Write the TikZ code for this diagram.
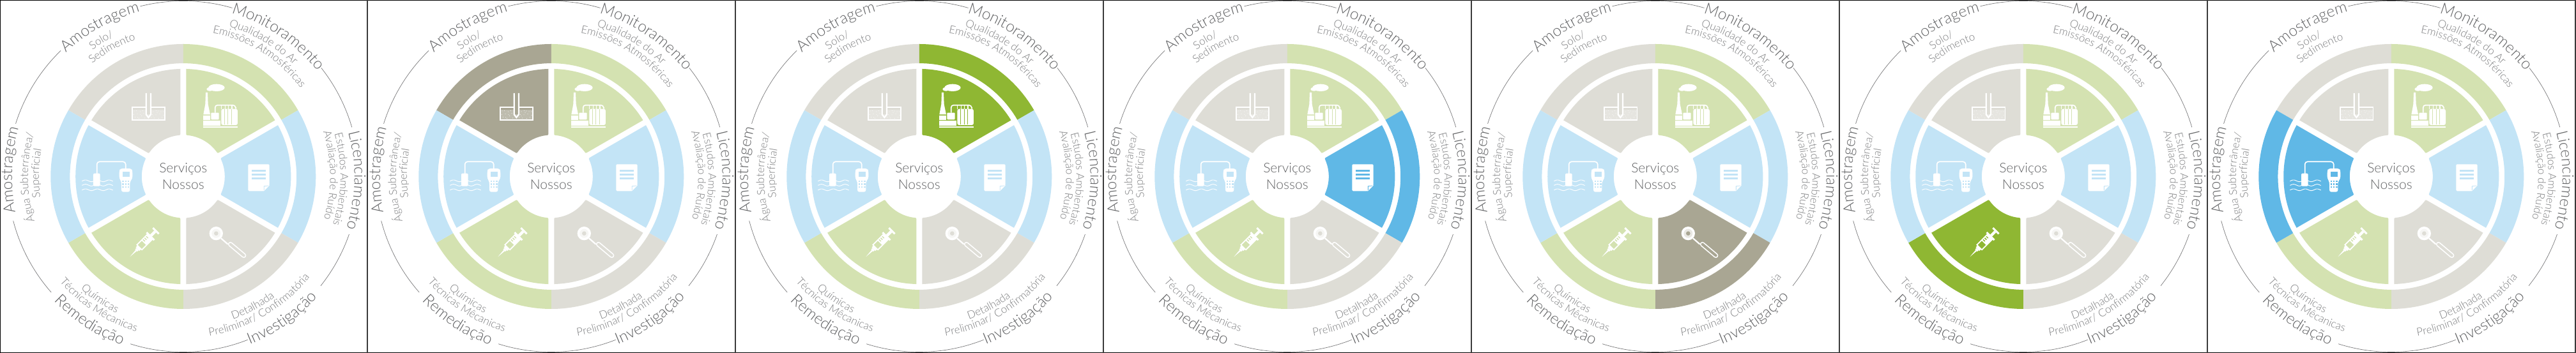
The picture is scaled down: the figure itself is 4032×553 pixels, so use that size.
\documentclass[tikz,border=0pt]{standalone}
\usepackage{fontspec}
\usetikzlibrary{decorations.text}
\setmainfont{Lato}
\newfontfamily\lightfont{Lato Light}

\definecolor{GrayL}{HTML}{DEDDD6}
\definecolor{GreenL}{HTML}{D4E2B1}
\definecolor{BlueL}{HTML}{C3E4F6}
\definecolor{GrayD}{HTML}{A9A693}
\definecolor{GreenD}{HTML}{8FB733}
\definecolor{BlueD}{HTML}{60B8E6}
\definecolor{TitleGray}{HTML}{626365}
\definecolor{SubGray}{HTML}{7C7D7F}
\definecolor{FrameGray}{HTML}{3A3A3A}

\newcommand{\titlefont}{\lightfont\fontsize{24.5}{25}\selectfont\color{TitleGray}}
\newcommand{\subfont}{\lightfont\fontsize{17}{18}\selectfont\color{SubGray}}

\pgfmathsetmacro{\aOut}{asin(4.5/168.6)}
\pgfmathsetmacro{\aNear}{asin(4.5/68.5)}
\pgfmathsetmacro{\aIn}{asin(4.5/65)}
\pgfmathsetmacro{\aTip}{\aIn+3.5/65*57.3}

\newcommand{\ringtext}[5]{%
    \path[decorate,decoration={text along path,text align=center,text={|#1|#5}}]
        ({#3-(#4)*50}:#2) arc[start angle={#3-(#4)*50},end angle={#3+(#4)*50},radius=#2];}

\newcommand{\iconA}{%
    \begin{scope}[shift={(-96.8,156.5)},x=.3333pt,y=-.3333pt]
        \fill[white,opacity=.25] (52,155) rectangle (203,202);
        \foreach \dotx/\doty in {60/162,75/175,64/190,88/165,95/185,82/196,105/172,150/165,162/180,155/195,172/162,180/176,190/192,197/165,175/197,140/190,110/195,70/160,58/178,90/178,100/160,146/178,168/170,186/165,198/182,76/192,150/186,163/160}
            \fill[white] (\dotx,\doty) circle[radius=1.5];
        \draw[white,line width=1.7pt] (50,143) rectangle (205,204);
        \fill[sectfill] (116,120) rectangle (138,178);
        \draw[white,line width=2.3pt] (116,78) -- (116,178) -- (127,192) -- (138,178) -- (138,78);
    \end{scope}}

\newcommand{\iconB}{%
    \begin{scope}[shift={(-96.8,156.5)},x=.3333pt,y=-.3333pt]
        \fill[white] (447,52) ellipse[x radius=38,y radius=17];
        \fill[white] (416,59) ellipse[x radius=16,y radius=9];
        \fill[white] (396,75) -- (405,75) -- (407,130) -- (417,178) -- (385,178) -- (394,130) -- cycle;
        \fill[white] (384,182) rectangle (417,203);
        \fill[white] (384,206) rectangle (465,232);
        \fill[white] (384,235) rectangle (546,241);
        \fill[white,rounded corners=1pt] (421,170) rectangle (458,202);
        \draw[white,line width=1.7pt,rounded corners=4pt] (440,170) -- (440,134) -- (535,134) -- (538,152);
        \foreach \pipex in {470,487,503,519}
            \draw[white,line width=1.5pt] (\pipex,134) -- (\pipex,152);
        \fill[white,rounded corners=3pt] (469,152) rectangle (546,228);
        \foreach \tankx in {485,501,517}
            \draw[sectfill,line width=1pt] (\tankx,154) -- (\tankx,226);
    \end{scope}}

\newcommand{\iconC}{%
    \begin{scope}[shift={(93.2,6.5)},x=.3333pt,y=-.3333pt]
        \fill[white,rounded corners=1.5pt] (25,-38) -- (125,-38) -- (125,60) -- (97,88) -- (25,88) -- cycle;
        \fill[white] (125,58) -- (125,62) -- (99,88) -- (95,88) -- cycle;
        \draw[sectfill,line width=.8pt] (100,84) -- (100,65) -- (121,63);
        \foreach \bandy in {-13,5,24}
            \fill[sectfill] (43,\bandy) rectangle (108,\bandy+10);
    \end{scope}}

\newcommand{\iconD}{%
    \begin{scope}[shift={(-96.8,-63.5)},x=.3333pt,y=-.3333pt]
        \fill[white] (445,77) circle[radius=32];
        \fill[sectfill,opacity=.25] (445,77) circle[radius=21];
        \fill[sectfill] (445,77) circle[radius=10];
        \draw[white,line width=2.2pt] (468,100) -- (500,128);
        \draw[white,line width=7.5pt,line cap=round] (512,128) -- (575,181);
        \draw[sectfill,line width=4.2pt,line cap=round] (512,128) -- (575,181);
    \end{scope}}

\newcommand{\iconE}{%
    \begin{scope}[shift={(-83.5,-125.8)},rotate=45]
        \fill[white] (0,0) -- (15,1.3) -- (15,-1.3) -- cycle;
        \fill[white] (14,-2.5) rectangle (17,2.5);
        \fill[white] (17,-4) rectangle (21,4);
        \draw[white,line width=1.7pt] (21,-5.5) rectangle (44,5.5);
        \fill[white] (31,-5.5) rectangle (44,5.5);
        \foreach \ticks in {33,36.5,40}
            \fill[sectfill] (\ticks,.5) rectangle (\ticks+1.5,4.5);
        \fill[white] (44,-8.5) rectangle (47,8.5);
        \fill[white] (47,-2.2) rectangle (56,2.2);
        \fill[white] (56,-6.5) rectangle (59,6.5);
    \end{scope}}

\newcommand{\iconF}{%
    \begin{scope}[shift={(-166.8,36.5)},x=.3333pt,y=-.3333pt]
        \foreach \wavey in {130,150,172}
            \draw[white,line width=.9pt] plot[domain=25:170,samples=50] (\x,{\wavey+4*sin(\x*6.5)});
        \draw[white,line width=1.7pt,rounded corners=4pt] (95,100) -- (95,40) -- (230,40) -- (230,74);
        \fill[white,rounded corners=2pt] (78,95) rectangle (110,155);
        \fill[white,rounded corners=3pt] (205,72) -- (257,72) -- (262,84) -- (262,118) -- (250,135) -- (250,182) -- (210,182) -- (210,135) -- (200,118) -- (200,84) -- cycle;
        \fill[sectfill] (215,87) rectangle (248,110);
        \foreach \keyx in {218,231,244}
            \foreach \keyy in {132,146,160}
                \fill[sectfill] (\keyx-3.5,\keyy-3.5) rectangle (\keyx+3.5,\keyy+3.5);
    \end{scope}}

\begin{document}
\begin{tikzpicture}[x=1pt,y=1pt]
    \useasboundingbox (0,0) rectangle (4032,553);
    \fill[white] (0,0) rectangle (4032,553);
    \foreach \panel in {0,...,6} {
        \begin{scope}[shift={(286.8+576*\panel,276.5)}]
            \foreach \ang/\soft/\strong/\idx/\icon in {90/GrayL/GrayD/1/A,30/GreenL/GreenD/2/B,-30/BlueL/BlueD/3/C,-90/GrayL/GrayD/4/D,-150/GreenL/GreenD/5/E,150/BlueL/BlueD/6/F} {
                \ifnum\panel=\idx \colorlet{sectfill}{\strong}\else \colorlet{sectfill}{\soft}\fi
                \pgfmathsetmacro{\angend}{\ang+60}
                \fill[sectfill] (\ang:207.5) arc[start angle=\ang,end angle=\angend,radius=207.5]
                    -- (\angend:177.4) arc[start angle=\angend,end angle=\ang,radius=177.4] -- cycle;
                \fill[sectfill] (\ang+\aNear:68.5) -- (\ang+\aOut:168.6)
                    arc[start angle=\ang+\aOut,end angle=\angend-\aOut,radius=168.6]
                    -- (\angend-\aNear:68.5) .. controls (\angend-\aIn:65) .. (\angend-\aTip:65)
                    arc[start angle=\angend-\aTip,end angle=\ang+\aTip,radius=65]
                    .. controls (\ang+\aIn:65) .. (\ang+\aNear:68.5) -- cycle;
                \csname icon\icon\endcsname
            }
            \foreach \arcfrom/\arcto in {104.2/73.8,38.2/16.3,-19.2/-38.5,-68.5/-107.5,-138.7/-165.4,162.5/134.2}
                \draw[TitleGray!85,line width=.7pt] (\arcfrom:275) arc[start angle=\arcfrom,end angle=\arcto,radius=275];
            \node[font=\lightfont\fontsize{21}{24}\selectfont,text=TitleGray] (servicos\panel) at (0,12) {Serviços};
            \node[font=\lightfont\fontsize{21}{24}\selectfont,text=TitleGray,below of=servicos\panel,node distance=24.5pt] (nossos\panel) {Nossos};
            \ringtext{\titlefont}{267}{119}{-1}{Amostragem}
            \ringtext{\titlefont}{267}{55.9}{-1}{Monitoramento}
            \ringtext{\titlefont}{268}{-1.3}{-1}{Licenciamento}
            \ringtext{\titlefont}{283}{-55.2}{1}{Investigação}
            \ringtext{\titlefont}{281}{-123}{1}{Remediação}
            \ringtext{\titlefont}{268}{177.8}{-1}{Amostragem}
            \ringtext{\subfont}{244}{121}{-1}{Solo/}
            \ringtext{\subfont}{227}{119}{-1}{Sedimento}
            \ringtext{\subfont}{246}{59.2}{-1}{Qualidade do Ar}
            \ringtext{\subfont}{230}{57.7}{-1}{Emissões Atmosféricas}
            \ringtext{\subfont}{246}{-1}{-1}{Estudos Ambientais}
            \ringtext{\subfont}{230}{.5}{-1}{Avaliação de Ruído}
            \ringtext{\subfont}{237}{-61.8}{1}{Detalhada}
            \ringtext{\subfont}{253}{-59.6}{1}{Preliminar/ Confirmatória}
            \ringtext{\subfont}{238}{-124.2}{1}{Químicas}
            \ringtext{\subfont}{254}{-123.2}{1}{Técnicas Mêcanicas}
            \ringtext{\subfont}{243}{180.4}{-1}{Água Subterrânea/}
            \ringtext{\subfont}{226}{178.7}{-1}{Superficial}
        \end{scope}
    }
    \draw[black,line width=1pt] (0,.5) -- (4032,.5);
    \draw[black,line width=1pt] (0,552.5) -- (4032,552.5);
    \draw[black,line width=1.5pt] (.5,0) -- (.5,553);
    \foreach \panel in {1,...,6}
        \draw[FrameGray,line width=2.4pt] (576*\panel-1,0) -- (576*\panel-1,553);
    \draw[FrameGray,line width=2.4pt] (4031,0) -- (4031,553);
\end{tikzpicture}
\end{document}
